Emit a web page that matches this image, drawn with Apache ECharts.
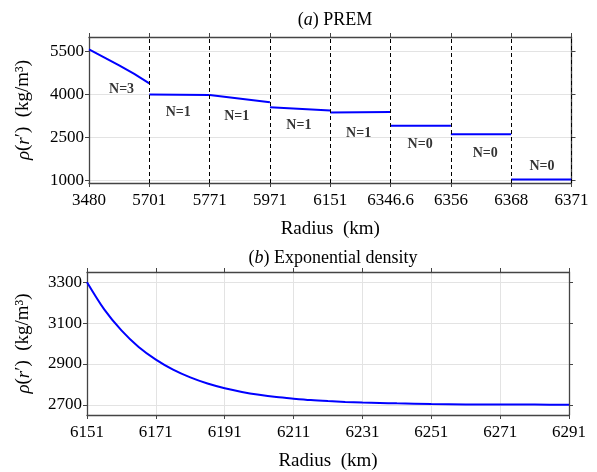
<!DOCTYPE html>
<html>
<head>
<meta charset="utf-8">
<script src="https://cdn.jsdelivr.net/npm/echarts@6/dist/echarts.min.js"></script>
<style>
html, body { margin: 0; padding: 0; background: #fff; }
#chart { width: 597px; height: 472px; }
</style>
</head>
<body>
<div id="chart"></div>
<script>
// (a) PREM - layer boundaries, drawn equally spaced on the x axis
const boundaries = [3480, 5701, 5771, 5971, 6151, 6346.6, 6356, 6368, 6371]
const tickLabels = ['3480', '5701', '5771', '5971', '6151', '6346.6', '6356', '6368', '6371']
// density inside each layer (radius km -> kg/m^3)
const layerRadius = [
  [3480, 4035, 4590, 5146, 5701],
  [5701, 5771],
  [5771, 5971],
  [5971, 6151],
  [6151, 6346.6],
  [6346.6, 6356],
  [6356, 6368],
  [6368, 6371]
]
const layerDensity = [
  [5566, 5290, 5008, 4709, 4381],
  [3992, 3976],
  [3976, 3724],
  [3543, 3436],
  [3360, 3381],
  [2900, 2900],
  [2600, 2600],
  [1020, 1020]
]
const layerText = ['N=3', 'N=1', 'N=1', 'N=1', 'N=1', 'N=0', 'N=0', 'N=0']
const textX = [0.54, 1.48, 2.45, 3.48, 4.47, 5.49, 6.57, 7.51]
const textY = [4170, 3370, 3230, 2910, 2630, 2235, 1920, 1490]
const yTicksA = [1000, 2500, 4000, 5500]

// (b) exponential density
const expRadius = [6151, 6156, 6161, 6166, 6171, 6176, 6181, 6186, 6191, 6196, 6201, 6206,
  6211, 6216, 6221, 6226, 6231, 6236, 6241, 6251, 6261, 6271, 6281, 6291]
const expDensity = [3300, 3167, 3064, 2983, 2921, 2872, 2834, 2804, 2781, 2763, 2749, 2738,
  2730, 2723, 2718, 2714, 2711, 2709, 2707, 2704, 2702, 2701, 2701, 2700]
const xTicksB = [6151, 6171, 6191, 6211, 6231, 6251, 6271, 6291]
const yTicksB = [2700, 2900, 3100, 3300]

const serif = 'Liberation Serif'
const frame = '#444'

// radius -> position on the equally spaced layer axis
function toPos(r, i) {
  return i + (r - boundaries[i]) / (boundaries[i + 1] - boundaries[i])
}

const chart = echarts.init(document.getElementById('chart'))

const yName = {
  name: '{i|ρ}({i|r}′)  (kg/m³)',
  nameLocation: 'middle',
  nameRotate: 90,
  nameTextStyle: {
    fontFamily: serif, fontSize: 19, color: '#000',
    rich: { i: { fontFamily: serif, fontStyle: 'italic', fontSize: 19, color: '#000' } }
  }
}

const axisBase = {
  axisLine: { show: true, onZero: false, lineStyle: { color: frame, width: 1.3 } },
  axisTick: { show: true, inside: false, length: 4, lineStyle: { color: frame, width: 1 } },
  axisLabel: { fontFamily: serif, fontSize: 17, color: '#000', formatter: v => String(v) },
  splitLine: { show: false }
}

const series = []
layerRadius.forEach((rs, i) => {
  series.push({
    type: 'line',
    xAxisIndex: 0,
    yAxisIndex: 0,
    showSymbol: false,
    silent: true,
    z: 4,
    lineStyle: { color: '#0000ff', width: 2 },
    data: rs.map((r, k) => [toPos(r, i), layerDensity[i][k]])
  })
})
series.push({
  type: 'line',
  xAxisIndex: 0,
  yAxisIndex: 0,
  data: [],
  markLine: {
    silent: true,
    symbol: ['none', 'none'],
    label: { show: false },
    lineStyle: { color: '#000', type: [4, 3], width: 1 },
    data: boundaries.slice(1).map((b, i) => ({ xAxis: i + 1 }))
  }
})
series.push({
  type: 'scatter',
  xAxisIndex: 0,
  yAxisIndex: 0,
  symbolSize: 0,
  silent: true,
  label: {
    show: true,
    position: 'inside',
    formatter: p => layerText[p.dataIndex],
    fontFamily: serif, fontWeight: 'bold', fontSize: 14, color: '#000'
  },
  data: textX.map((x, i) => [x, textY[i]])
})
series.push({
  type: 'line',
  xAxisIndex: 2,
  yAxisIndex: 2,
  showSymbol: false,
  smooth: 0.3,
  silent: true,
  lineStyle: { color: '#0000ff', width: 2 },
  data: expRadius.map((r, i) => [r, expDensity[i]])
})

const option = {
  animation: false,
  title: [
    {
      text: '({i|a}) PREM',
      left: 330, top: 6, textAlign: 'center',
      textStyle: {
        fontFamily: serif, fontSize: 18, fontWeight: 'normal', color: '#000',
        rich: { i: { fontFamily: serif, fontStyle: 'italic', fontSize: 18, color: '#000' } }
      }
    },
    {
      text: '({i|b}) Exponential density',
      left: 328, top: 244, textAlign: 'center',
      textStyle: {
        fontFamily: serif, fontSize: 18, fontWeight: 'normal', color: '#000',
        rich: { i: { fontFamily: serif, fontStyle: 'italic', fontSize: 18, color: '#000' } }
      }
    }
  ],
  grid: [
    { left: 89, right: 25.5, top: 37, height: 146 },
    { left: 87, right: 28, top: 272, height: 146 }
  ],
  xAxis: [
    {
      ...axisBase,
      gridIndex: 0, type: 'value', min: 0, max: 8, interval: 1, position: 'bottom',
      axisLabel: { ...axisBase.axisLabel, margin: 9, formatter: v => tickLabels[v] },
      name: 'Radius  (km)', nameLocation: 'middle', nameGap: 37,
      nameTextStyle: { fontFamily: serif, fontSize: 19, color: '#000' }
    },
    {
      ...axisBase,
      gridIndex: 0, type: 'value', min: 0, max: 8, interval: 1, position: 'top',
      axisLabel: { show: false }
    },
    {
      ...axisBase,
      gridIndex: 1, type: 'value', min: 6151, max: 6291, position: 'bottom',
      axisTick: { ...axisBase.axisTick, customValues: xTicksB },
      axisLabel: { ...axisBase.axisLabel, margin: 9, customValues: xTicksB },
      splitLine: { show: true, lineStyle: { color: '#e3e3e3', width: 1 } },
      name: 'Radius  (km)', nameLocation: 'middle', nameGap: 37,
      nameTextStyle: { fontFamily: serif, fontSize: 19, color: '#000' }
    },
    {
      ...axisBase,
      gridIndex: 1, type: 'value', min: 6151, max: 6291, position: 'top',
      axisTick: { ...axisBase.axisTick, customValues: xTicksB },
      axisLabel: { show: false, customValues: xTicksB }
    }
  ],
  yAxis: [
    {
      ...axisBase, ...yName,
      gridIndex: 0, type: 'value', min: 900, max: 6000, position: 'left', nameGap: 56,
      axisTick: { ...axisBase.axisTick, customValues: yTicksA },
      axisLabel: { ...axisBase.axisLabel, margin: 5, customValues: yTicksA },
      splitLine: { show: true, lineStyle: { color: '#e3e3e3', width: 1 } }
    },
    {
      ...axisBase,
      gridIndex: 0, type: 'value', min: 900, max: 6000, position: 'right',
      axisTick: { ...axisBase.axisTick, customValues: yTicksA },
      axisLabel: { show: false, customValues: yTicksA }
    },
    {
      ...axisBase, ...yName,
      gridIndex: 1, type: 'value', min: 2650, max: 3350, position: 'left', nameGap: 54,
      axisTick: { ...axisBase.axisTick, customValues: yTicksB },
      axisLabel: { ...axisBase.axisLabel, margin: 5, customValues: yTicksB },
      splitLine: { show: true, lineStyle: { color: '#e3e3e3', width: 1 } }
    },
    {
      ...axisBase,
      gridIndex: 1, type: 'value', min: 2650, max: 3350, position: 'right',
      axisTick: { ...axisBase.axisTick, customValues: yTicksB },
      axisLabel: { show: false, customValues: yTicksB }
    }
  ],
  series: series
}

chart.setOption(option)
</script>
</body>
</html>
